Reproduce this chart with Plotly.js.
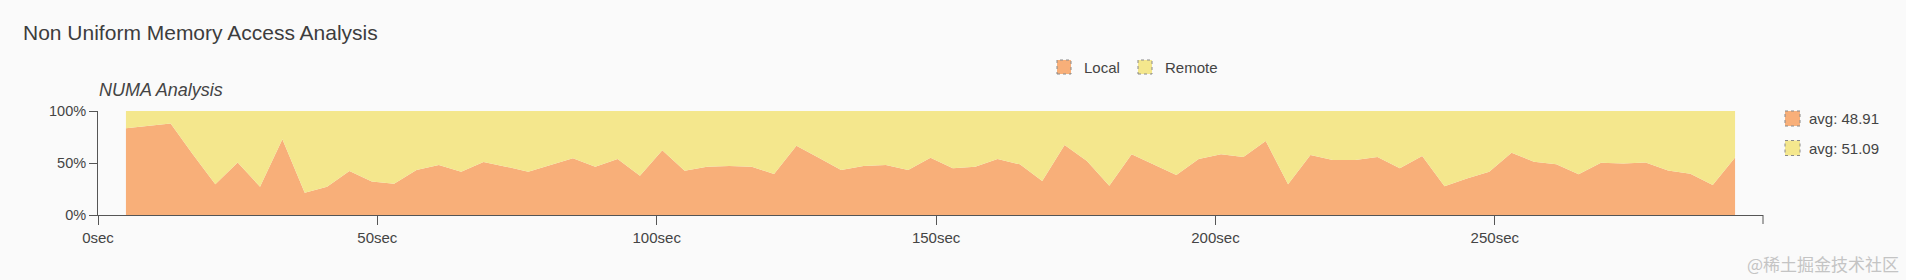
<!DOCTYPE html>
<html>
<head>
<meta charset="utf-8">
<script src="https://cdn.plot.ly/plotly-3.0.1.min.js"></script>
<style>
  html, body { margin: 0; padding: 0; background: #fafafa; }
  #chart { width: 1906px; height: 280px; }
</style>
</head>
<body>
<div id="chart"></div>
<script>
// ---- data ----
const seconds = [5, 9, 13, 17, 21, 25, 29, 33, 37, 41, 45, 49, 53, 57, 61, 65, 69, 73, 77, 81,
  85, 89, 93, 97, 101, 105, 109, 113, 117, 121, 125, 129, 133, 137, 141, 145, 149, 153, 157, 161,
  165, 169, 173, 177, 181, 185, 189, 193, 197, 201, 205, 209, 213, 217, 221, 225, 229, 233, 237, 241,
  245, 249, 253, 257, 261, 265, 269, 273, 277, 281, 285, 289, 293];
const localPct = [83.3, 85.7, 88.1, 58.2, 29.5, 50.6, 27.2, 72.8, 21.5, 27.2, 42.3, 32.1, 30.0, 43.3, 48.1, 41.7, 51.0, 46.5, 41.7, 48.1,
  54.5, 46.5, 53.8, 37.8, 62.2, 42.6, 46.5, 47.1, 46.5, 39.4, 66.7, 55.1, 43.3, 47.1, 48.1, 43.3, 55.1, 44.9, 46.5, 53.8,
  48.7, 32.7, 67.3, 51.9, 28.2, 58.3, 48.7, 38.5, 53.8, 58.3, 55.8, 71.2, 29.5, 57.7, 52.9, 52.9, 55.8, 44.9, 56.7, 27.6,
  35.2, 41.7, 59.9, 51.3, 48.7, 39.1, 50.3, 49.4, 50.6, 42.9, 39.7, 28.8, 55.4];
const remotePct = [16.7, 14.3, 11.9, 41.8, 70.5, 49.4, 72.8, 27.2, 78.5, 72.8, 57.7, 67.9, 70.0, 56.7, 51.9, 58.3, 49.0, 53.5, 58.3, 51.9,
  45.5, 53.5, 46.2, 62.2, 37.8, 57.4, 53.5, 52.9, 53.5, 60.6, 33.3, 44.9, 56.7, 52.9, 51.9, 56.7, 44.9, 55.1, 53.5, 46.2,
  51.3, 67.3, 32.7, 48.1, 71.8, 41.7, 51.3, 61.5, 46.2, 41.7, 44.2, 28.8, 70.5, 42.3, 47.1, 47.1, 44.2, 55.1, 43.3, 72.4,
  64.8, 58.3, 40.1, 48.7, 51.3, 60.9, 49.7, 50.6, 49.4, 57.1, 60.3, 71.2, 44.6];
const seriesNames = ['Local', 'Remote'];
const avgLabels = ['avg: 48.91', 'avg: 51.09'];
const yTickVals = [0, 50, 100];
const yTickText = ['0%', '50%', '100%'];
const chartTitle = 'Non Uniform Memory Access Analysis';
const subTitle = 'NUMA Analysis';
const watermark = '@稀土掘金技术社区';

// ---- styling ----
const colors = ['#f8af79', '#f4e78d'];
const FONT = '"Liberation Sans", Arial, sans-serif';
const W = 1906, H = 280;
const M = { l: 98, r: 143, t: 111, b: 65 };
const PW = W - M.l - M.r, PH = H - M.t - M.b;
const px = v => (v - M.l) / PW;           // pixel -> paper x
const py = v => (H - M.b - v) / PH;       // pixel -> paper y

const traces = [
  { type: 'scatter', mode: 'lines', x: seconds, y: localPct, name: seriesNames[0],
    stackgroup: 'one', fillcolor: colors[0], line: { width: 0, color: colors[0] },
    showlegend: false, hoverinfo: 'x+y+name' },
  { type: 'scatter', mode: 'lines', x: seconds, y: remotePct, name: seriesNames[1],
    stackgroup: 'one', fillcolor: colors[1], line: { width: 0, color: colors[1] },
    showlegend: false, hoverinfo: 'x+y+name' }
];

const shapes = [];
const annotations = [];

// top legend
const topSw = [1057, 1138];
const topTx = [1082, 1163];
seriesNames.forEach((n, i) => {
  shapes.push({ type: 'rect', xref: 'paper', yref: 'paper',
    x0: px(topSw[i]), x1: px(topSw[i] + 14), y0: py(74), y1: py(60),
    fillcolor: colors[i], line: { color: '#8a8a8a', width: 1, dash: 'dot' } });
  annotations.push({ xref: 'paper', yref: 'paper', x: px(topTx[i]), y: py(67.5),
    xanchor: 'left', yanchor: 'middle', showarrow: false, text: n,
    font: { family: FONT, size: 15, color: '#444' } });
});

// right legend
const rightY = [118.5, 148];
avgLabels.forEach((t, i) => {
  shapes.push({ type: 'rect', xref: 'paper', yref: 'paper',
    x0: px(1785), x1: px(1800), y0: py(rightY[i] + 7.5), y1: py(rightY[i] - 7.5),
    fillcolor: colors[i], line: { color: '#8a8a8a', width: 1, dash: 'dot' } });
  annotations.push({ xref: 'paper', yref: 'paper', x: px(1807), y: py(rightY[i]),
    xanchor: 'left', yanchor: 'middle', showarrow: false, text: t,
    font: { family: FONT, size: 15, color: '#444' } });
});

// outer end tick of x axis
shapes.push({ type: 'line', xref: 'paper', yref: 'paper', ysizemode: 'pixel', yanchor: 0,
  x0: 1, x1: 1, y0: 0, y1: -9, line: { color: '#555', width: 1 } });

// subtitle
annotations.push({ xref: 'paper', yref: 'paper', x: px(97), y: py(89.5),
  xanchor: 'left', yanchor: 'middle', showarrow: false, text: '<i>' + subTitle + '</i>',
  font: { family: FONT, size: 18, color: '#444' } });

// watermark
annotations.push({ xref: 'paper', yref: 'paper', x: px(1901), y: py(263),
  xanchor: 'right', yanchor: 'middle', showarrow: false, text: watermark,
  font: { family: '"Noto Sans CJK SC", sans-serif', size: 17, color: '#c4c4c4' } });

const layout = {
  width: W, height: H,
  paper_bgcolor: '#fafafa', plot_bgcolor: '#fafafa',
  margin: { l: M.l, r: M.r, t: M.t, b: M.b, pad: 0 },
  showlegend: false,
  title: { text: chartTitle, xref: 'container', yref: 'container',
    x: 23 / W, xanchor: 'left', y: 1 - 33 / H, yanchor: 'middle',
    font: { family: FONT, size: 21, color: '#3d3d3d' } },
  xaxis: { range: [0, 298], tick0: 0, dtick: 50, ticksuffix: 'sec',
    showgrid: false, zeroline: false, showline: true, linecolor: '#555', linewidth: 1,
    ticks: 'outside', ticklen: 9, tickcolor: '#555', tickwidth: 1,
    tickfont: { family: FONT, size: 15, color: '#444' }, fixedrange: true },
  yaxis: { range: [0, 100], tickmode: 'array', tickvals: yTickVals, ticktext: yTickText,
    showgrid: false, zeroline: false, showline: true, linecolor: '#555', linewidth: 1,
    ticks: 'outside', ticklen: 8, tickcolor: '#555', tickwidth: 1,
    tickfont: { family: FONT, size: 14.5, color: '#444' }, fixedrange: true },
  shapes: shapes,
  annotations: annotations
};

Plotly.newPlot('chart', traces, layout, { displayModeBar: false, staticPlot: true });
</script>
</body>
</html>
